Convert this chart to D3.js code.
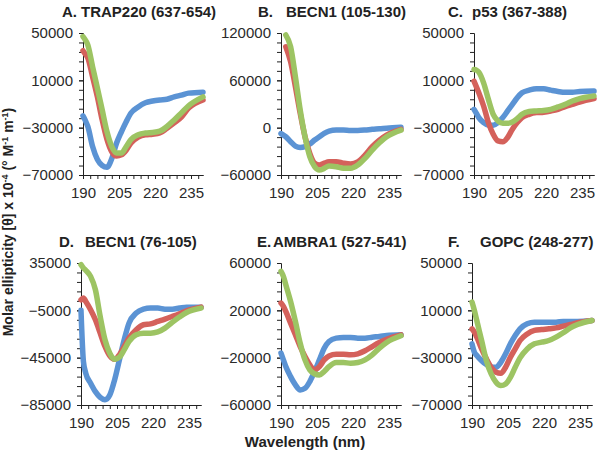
<!DOCTYPE html>
<html>
<head>
<meta charset="utf-8">
<script src="https://cdn.jsdelivr.net/npm/d3@7"></script>
<style>
  body { margin: 0; background: #fff; }
  svg { font-family: "Liberation Sans", Arial, sans-serif; }
  .tick text { fill: #2a2a2a; }
</style>
</head>
<body>
<div id="chart"></div>
<script>
// wavelength grid (nm) shared by all spectra
var wavelengths = [190, 191, 192, 194, 196, 198, 200, 202, 204, 206, 208, 210, 213, 216, 219, 222, 225, 228, 231, 234, 240];

// A. TRAP220
var trapBlue  = [-20000, -24000, -29000, -46000, -57000, -62000, -63500, -56000, -43000, -33500, -25000, -17600, -12500, -9000, -7500, -6600, -6000, -4000, -2500, -800, 0];
var trapRed   = [35000, 32000, 29000, 13000, -4000, -23500, -40000, -50500, -54000, -53000, -49000, -43000, -38000, -36000, -35500, -34500, -30500, -26000, -21000, -13500, -6600];
var trapGreen = [47000, 44000, 40000, 21500, 3500, -15000, -33500, -46000, -51500, -51500, -46000, -40000, -36000, -34500, -34000, -33000, -29000, -23500, -17500, -11500, -4000];

// B. BECN1 (105-130)
var becnBBlue  = [-7500, -9500, -11500, -17800, -23300, -25000, -24000, -20700, -15700, -11500, -7200, -4300, -3000, -3000, -3500, -3500, -3000, -2100, -1500, -700, 400];
var becnBRed   = [null, null, 102600, 83600, 52000, 18200, -11500, -32600, -45000, -47400, -45000, -43200, -43200, -45000, -46000, -43200, -34700, -24000, -15700, -9300, -2100];
var becnBGreen = [null, null, 117500, 102600, 64600, 22400, -11500, -36800, -49500, -53700, -51600, -48600, -49500, -51600, -51600, -47400, -38900, -28400, -19100, -11500, -3000];

// C. p53
var p53Blue  = [-14500, -18000, -21500, -25700, -28000, -28000, -25700, -21500, -15900, -10300, -4700, -500, 1700, 2900, 2900, 1700, 600, -100, -100, 600, 900];
var p53Red   = [9300, 4500, -500, -11700, -25700, -35500, -41200, -42000, -38300, -31300, -25700, -21500, -18700, -17300, -16900, -15900, -14500, -12200, -10300, -8400, -5500];
var p53Green = [19100, 18600, 16900, 7900, -6100, -18700, -24300, -26300, -26300, -25200, -22400, -18700, -16400, -15900, -15500, -14500, -12500, -10300, -7500, -5500, -3300];

// D. BECN1 (76-105)
var becnDBlue  = [-5000, -48000, -58200, -66600, -73700, -78500, -80500, -76500, -63800, -46900, -29900, -15800, -7300, -4000, -3100, -3100, -4000, -4000, -3100, -2300, -2300];
var becnDRed   = [3900, 5400, 2500, -4500, -13000, -24300, -35600, -43500, -46300, -42600, -35600, -28500, -21500, -17200, -16400, -14400, -12400, -10200, -7900, -5400, -2300];
var becnDGreen = [33600, 30800, 28800, 23700, 12400, -10200, -29900, -41200, -46300, -44600, -38400, -31300, -25700, -24300, -24300, -23200, -20000, -15200, -10700, -6800, -3100];

// E. AMBRA1
var ambraBlue  = [-16200, -21900, -27500, -36000, -43000, -47300, -45900, -40200, -31700, -21900, -12000, -6300, -3500, -3000, -3000, -3500, -3500, -2700, -2100, -1300, -700];
var ambraRed   = [26100, 23300, 19100, 9200, -700, -10600, -19000, -26100, -30300, -27500, -21900, -18500, -17100, -17100, -17600, -16800, -14200, -10600, -7200, -4400, -700];
var ambraGreen = [52900, 48700, 41600, 27500, 10600, -7800, -21900, -30300, -33700, -34600, -31700, -27500, -24100, -24100, -24700, -24100, -21900, -17600, -12000, -7200, -1500];

// F. GOPC
var gopcBlue  = [-18300, -25400, -28200, -32500, -35800, -38100, -38100, -33900, -26800, -18300, -11300, -5600, -1400, 0, 0, 0, 0, 600, 600, 600, 1400];
var gopcRed   = [-5600, -8500, -12700, -22600, -31000, -38100, -42300, -43200, -38100, -29600, -22600, -15500, -9900, -7000, -6200, -5600, -4800, -3400, -2000, -500, 1400];
var gopcGreen = [17000, 9900, 1400, -15500, -32500, -43800, -50800, -53600, -52200, -46600, -38100, -30200, -22600, -18300, -16900, -15500, -12700, -9000, -4800, -2000, 1400];

var xTicks = [190, 205, 220, 235];
var yTicksA = [50000, 10000, -30000, -70000];
var yTicksB = [120000, 60000, 0, -60000];
var yTicksD = [35000, -5000, -45000, -85000];
var yTicksE = [60000, 20000, -20000, -60000];

var letters = ["A.", "B.", "C.", "D.", "E.", "F."];
var names = ["TRAP220 (637-654)", "BECN1 (105-130)", "p53 (367-388)", "BECN1 (76-105)", "AMBRA1 (527-541)", "GOPC (248-277)"];

var colors = ["#5b93d4", "#d4615b", "#9dc463"];

// panel layout: axis origin and title offsets
var panels = [
  {left: 83,  top: 33,  yTicks: yTicksA, series: [trapBlue, trapRed, trapGreen],    letterDx: -21, nameDx: -2},
  {left: 281, top: 33,  yTicks: yTicksB, series: [becnBBlue, becnBRed, becnBGreen], letterDx: -23, nameDx: 5},
  {left: 474, top: 33,  yTicks: yTicksA, series: [p53Blue, p53Red, p53Green],       letterDx: -26, nameDx: -2},
  {left: 81,  top: 263, yTicks: yTicksD, series: [becnDBlue, becnDRed, becnDGreen], letterDx: -22, nameDx: 4},
  {left: 281, top: 263, yTicks: yTicksE, series: [ambraBlue, ambraRed, ambraGreen], letterDx: -24, nameDx: -8},
  {left: 472, top: 263, yTicks: yTicksA, series: [gopcBlue, gopcRed, gopcGreen],    letterDx: -24, nameDx: 8}
];

var W = 600, H = 455, pw = 120, ph = 142;

var svg = d3.select("#chart").append("svg")
    .attr("width", W)
    .attr("height", H);

panels.forEach(function(p, i) {
    var g = svg.append("g").attr("transform", "translate(" + p.left + "," + p.top + ")");

    var x = d3.scaleLinear().domain([190, 240]).range([0, pw]);
    var ymax = d3.max(p.yTicks), ymin = d3.min(p.yTicks);
    var y = d3.scaleLinear().domain([ymin, ymax]).range([ph, 0]);
    var yStep = (ymax - ymin) / 15;

    // minor ticks
    g.append("g")
        .attr("class", "minor")
        .call(d3.axisLeft(y).tickValues(d3.range(ymin, ymax + 1, yStep)).tickFormat("").tickSize(4).tickSizeOuter(0));
    g.append("g")
        .attr("class", "minor")
        .attr("transform", "translate(0," + ph + ")")
        .call(d3.axisBottom(x).tickValues(d3.range(190, 240, 3)).tickFormat("").tickSize(4).tickSizeOuter(0));

    // labelled axes
    g.append("g")
        .call(d3.axisLeft(y).tickValues(p.yTicks).tickFormat(d3.format("d")).tickSize(4).tickPadding(6).tickSizeOuter(0))
        .selectAll("text").style("font-size", "15px");
    g.append("g")
        .attr("transform", "translate(0," + ph + ")")
        .call(d3.axisBottom(x).tickValues(xTicks).tickSize(4).tickPadding(8).tickSizeOuter(0))
        .selectAll("text").style("font-size", "15px");

    g.selectAll(".domain, .tick line").attr("stroke", "#222");

    var line = d3.line()
        .defined(function(d) { return d[1] !== null; })
        .x(function(d) { return x(d[0]); })
        .y(function(d) { return y(d[1]); })
        .curve(d3.curveMonotoneX);

    p.series.forEach(function(s, k) {
        g.append("path")
            .datum(wavelengths.map(function(w, j) { return [w, s[j]]; }))
            .attr("fill", "none")
            .attr("stroke", colors[k])
            .attr("stroke-width", 5.5)
            .attr("stroke-linejoin", "round")
            .attr("stroke-linecap", "round")
            .attr("d", line);
    });

    // title
    var ty = p.top - 16;
    svg.append("text")
        .attr("x", p.left + p.letterDx).attr("y", ty)
        .attr("font-size", "15px").attr("font-weight", "bold").attr("fill", "#222")
        .text(letters[i]);
    svg.append("text")
        .attr("x", p.left + p.nameDx).attr("y", ty)
        .attr("font-size", "15px").attr("font-weight", "bold").attr("fill", "#222")
        .text(names[i]);
});

// axis titles
var yl = svg.append("text")
    .attr("transform", "translate(13,222) rotate(-90)")
    .attr("text-anchor", "middle")
    .attr("font-size", "14px").attr("font-weight", "bold").attr("fill", "#222");
yl.append("tspan").text("Molar ellipticity [\u03b8] x 10");
yl.append("tspan").attr("dy", -5).attr("font-size", "9px").text("-4");
yl.append("tspan").attr("dy", 5).text(" (\u00b0 M");
yl.append("tspan").attr("dy", -5).attr("font-size", "9px").text("-1");
yl.append("tspan").attr("dy", 5).text(" m");
yl.append("tspan").attr("dy", -5).attr("font-size", "9px").text("-1");
yl.append("tspan").attr("dy", 5).text(")");

svg.append("text")
    .attr("x", 305).attr("y", 447)
    .attr("text-anchor", "middle")
    .attr("font-size", "15px").attr("font-weight", "bold").attr("fill", "#222")
    .text("Wavelength (nm)");
</script>
</body>
</html>
